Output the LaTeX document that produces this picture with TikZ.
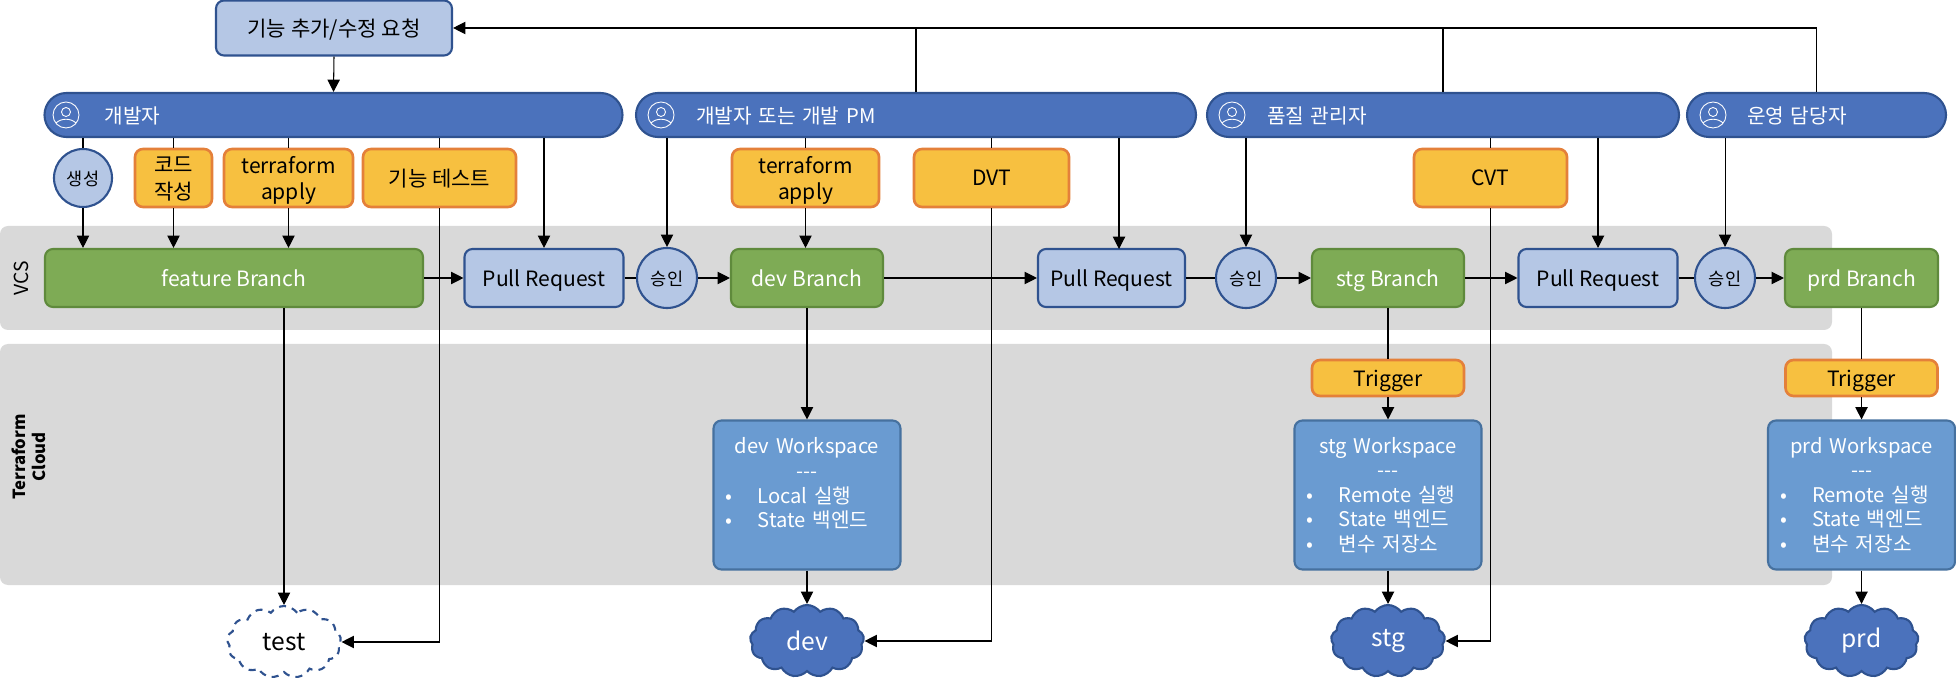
\documentclass[tikz,border=0pt]{standalone}
\usepackage{fontspec}
\setmainfont{Noto Sans CJK KR}
\usetikzlibrary{arrows.meta,shapes.geometric,shapes.symbols}

\definecolor{barblue}{HTML}{4B72BC}
\definecolor{barline}{HTML}{2F528F}
\definecolor{lightblue}{HTML}{B5C7E5}
\definecolor{taskfill}{HTML}{F7C040}
\definecolor{taskline}{HTML}{E4803A}
\definecolor{branchfill}{HTML}{7EAB55}
\definecolor{branchline}{HTML}{5F8A3C}
\definecolor{wsfill}{HTML}{6A9BD1}
\definecolor{wsline}{HTML}{46719F}
\definecolor{bandgray}{HTML}{D9D9D9}

\newlength{\px}
\setlength{\px}{0.02cm}

\tikzset{
  boxbase/.style={draw, rectangle, rounded corners=8\px, line width=1.2pt, inner sep=0pt, align=center,
    text depth=0pt, font=\fontsize{12}{15}\selectfont},
  requestbox/.style={boxbase, draw=barline, fill=lightblue},
  actorbar/.style={boxbase, draw=barline, fill=barblue, text=white, rounded corners=22\px,
    minimum height=44\px, inner xsep=60\px, align=left, font=\fontsize{11.5}{14}\selectfont},
  taskbox/.style={boxbase, draw=taskline, fill=taskfill, line width=1.5pt, minimum height=58\px},
  branchbox/.style={boxbase, draw=branchline, fill=branchfill, text=white, minimum height=58\px},
  approve/.style={draw=barline, fill=lightblue, ellipse, line width=1.2pt, inner sep=0pt, text depth=0pt,
    minimum width=60\px, minimum height=60\px, font=\fontsize{10}{12}\selectfont},
  wsbox/.style={boxbase, draw=wsline, fill=wsfill, text=white, minimum width=187\px, minimum height=149\px,
    text width=167\px, text depth={}, align=left, font=\fontsize{11.5}{14}\selectfont},
  envcloud/.style={draw=barline, fill=barblue, text=white, cloud, cloud puffs=13, cloud puff arc=110, aspect=1.7,
    line width=1.2pt, inner sep=0pt, minimum width=114\px, minimum height=72\px, font=\fontsize{14}{16}\selectfont},
  band/.style={fill=bandgray, rounded corners=8\px},
  link/.style={line width=0.6pt},
  linkarrow/.style={link, -{Triangle[length=7pt,width=7pt]}},
  personicon/.pic={
    \draw[white, line width=0.5pt] (0,0) circle (13);
    \draw[white, line width=0.5pt] (0,-3) circle (4.5);
    \draw[white, line width=0.5pt] (-10,8) .. controls (-5,3) and (5,3) .. (10,8);
  }
}
\newcommand{\wstitle}[1]{\makebox[\linewidth]{#1}\\\makebox[\linewidth]{-{}-{}-}}
\newcommand{\wsitem}[1]{\hspace{2\px}\makebox[32\px][l]{•}#1}

\begin{document}
\begin{tikzpicture}[x=0.02cm, y=-0.02cm]
\useasboundingbox (0,0) rectangle (1956,678);

% bands
\fill[band] (0,226) rectangle (1832,330);
\fill[band] (0,344) rectangle (1832,585);
\node[rotate=90, font=\fontsize{11}{13}\selectfont] (vcslabel) at (21,278) {VCS};
\node[rotate=90, align=center, font=\fontsize{9.5}{11.5}\bfseries\selectfont] (tflabel) at (29,457) {Terraform\\Cloud};

% request and actors
\node[requestbox, minimum width=236\px, minimum height=55\px] (request) at (334,28) {기능 추가/수정 요청};
\node[actorbar, text width=458\px] (devbar) at (333.5,115) {개발자};
\node[actorbar, text width=440\px] (pmbar) at (916,115) {개발자 또는 개발 PM};
\node[actorbar, text width=352\px] (qabar) at (1443,115) {품질 관리자};
\node[actorbar, text width=139\px] (opsbar) at (1816.5,115) {운영 담당자};
\foreach \iconx in {66,661,1232,1713} {
  \pic at (\iconx,115) {personicon};
}

% tasks
\node[approve, minimum width=58\px, minimum height=58\px] (create) at (83,178) {생성};
\node[taskbox, minimum width=77\px] (code) at (173.5,178) {코드\\작성};
\node[taskbox, minimum width=129\px] (tfapply) at (288.5,178) {terraform\\apply};
\node[taskbox, minimum width=153\px] (functest) at (439.5,178) {기능 테스트};
\node[taskbox, minimum width=147\px] (tfdev) at (805.5,178) {terraform\\apply};
\node[taskbox, minimum width=155\px] (dvt) at (991.5,178) {DVT};
\node[taskbox, minimum width=153\px] (cvt) at (1490.5,178) {CVT};

% branches
\node[branchbox, minimum width=378\px] (feature) at (234,278) {feature Branch};
\node[requestbox, minimum width=159\px, minimum height=58\px] (prone) at (544,278) {Pull Request};
\node[approve] (okone) at (667,278) {승인};
\node[branchbox, minimum width=152\px] (devbranch) at (807,278) {dev Branch};
\node[requestbox, minimum width=147\px, minimum height=58\px] (prtwo) at (1111.5,278) {Pull Request};
\node[approve] (oktwo) at (1246,278) {승인};
\node[branchbox, minimum width=152\px] (stgbranch) at (1388,278) {stg Branch};
\node[requestbox, minimum width=159\px, minimum height=58\px] (prthree) at (1598,278) {Pull Request};
\node[approve] (okthree) at (1725,278) {승인};
\node[branchbox, minimum width=153\px] (prdbranch) at (1861.5,278) {prd Branch};
\coordinate (prtwotop) at (1119,249);

% triggers
\node[taskbox, minimum width=152\px, minimum height=36\px] (stgtrigger) at (1388,378) {Trigger};
\node[taskbox, minimum width=152\px, minimum height=36\px] (prdtrigger) at (1861.5,378) {Trigger};

% workspaces
\node[wsbox] (devws) at (807,495) {\wstitle{dev Workspace}\\\wsitem{Local 실행}\\\wsitem{State 백엔드}\\~};
\node[wsbox] (stgws) at (1388,495) {\wstitle{stg Workspace}\\\wsitem{Remote 실행}\\\wsitem{State 백엔드}\\\wsitem{변수 저장소}};
\node[wsbox] (prdws) at (1861.5,495) {\wstitle{prd Workspace}\\\wsitem{Remote 실행}\\\wsitem{State 백엔드}\\\wsitem{변수 저장소}};

% clouds
\node[envcloud, fill=white, text=black, dash pattern=on 4pt off 3.5pt] (testcloud) at (284,642) {test};
\node[envcloud] (devcloud) at (807,641) {dev};
\node[envcloud] (stgcloud) at (1388,641) {stg};
\node[envcloud] (prdcloud) at (1861.5,641) {prd};

% feedback to request
\draw[linkarrow] (opsbar.north) |- (request.east);
\draw[link] (qabar.north) -- (qabar.north |- request.east);
\draw[link] (pmbar.north) -- (pmbar.north |- request.east);
\draw[linkarrow] (request.south) -- (devbar.north);

% developer
\draw[link] (create.north |- devbar.south) -- (create.north);
\draw[linkarrow] (create.south) -- (create.south |- feature.north);
\draw[link] (code.north |- devbar.south) -- (code.north);
\draw[linkarrow] (code.south) -- (code.south |- feature.north);
\draw[link] (tfapply.north |- devbar.south) -- (tfapply.north);
\draw[linkarrow] (tfapply.south) -- (tfapply.south |- feature.north);
\draw[link] (functest.north |- devbar.south) -- (functest.north);
\draw[linkarrow] (functest.south) |- (testcloud.east);
\draw[linkarrow] (prone.north |- devbar.south) -- (prone.north);

% developer or PM
\draw[linkarrow] (okone.north |- pmbar.south) -- (okone.north);
\draw[link] (tfdev.north |- pmbar.south) -- (tfdev.north);
\draw[linkarrow] (tfdev.south) -- (tfdev.south |- devbranch.north);
\draw[link] (dvt.north |- pmbar.south) -- (dvt.north);
\draw[linkarrow] (dvt.south) |- (devcloud.east);
\draw[linkarrow] (prtwotop |- pmbar.south) -- (prtwotop);

% quality and operations
\draw[linkarrow] (oktwo.north |- qabar.south) -- (oktwo.north);
\draw[link] (cvt.north |- qabar.south) -- (cvt.north);
\draw[linkarrow] (cvt.south) |- (stgcloud.east);
\draw[linkarrow] (prthree.north |- qabar.south) -- (prthree.north);
\draw[linkarrow] (okthree.north |- opsbar.south) -- (okthree.north);

% branch flow
\draw[linkarrow] (feature) -- (prone);
\draw[link] (prone) -- (okone);
\draw[linkarrow] (okone) -- (devbranch);
\draw[linkarrow] (devbranch) -- (prtwo);
\draw[link] (prtwo) -- (oktwo);
\draw[linkarrow] (oktwo) -- (stgbranch);
\draw[linkarrow] (stgbranch) -- (prthree);
\draw[link] (prthree) -- (okthree);
\draw[linkarrow] (okthree) -- (prdbranch);

% deployment
\draw[linkarrow] (testcloud.north |- feature.south) -- (testcloud.north);
\draw[linkarrow] (devbranch.south) -- (devws.north);
\draw[linkarrow] (devws.south) -- (devcloud.north);
\draw[link] (stgbranch.south) -- (stgtrigger.north);
\draw[linkarrow] (stgtrigger.south) -- (stgws.north);
\draw[linkarrow] (stgws.south) -- (stgcloud.north);
\draw[link] (prdbranch.south) -- (prdtrigger.north);
\draw[linkarrow] (prdtrigger.south) -- (prdws.north);
\draw[linkarrow] (prdws.south) -- (prdcloud.north);

\end{tikzpicture}
\end{document}
